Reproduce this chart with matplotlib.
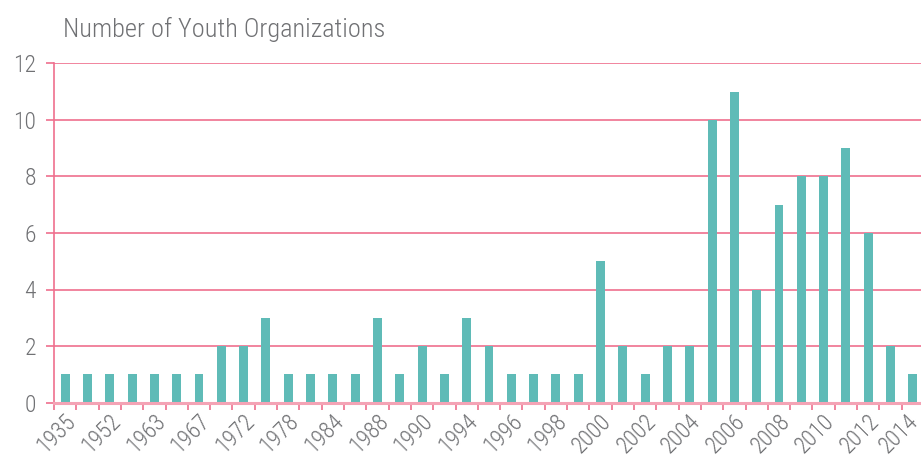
import numpy as np
import matplotlib.pyplot as plt
from matplotlib import font_manager
import matplotlib.transforms as mtransforms

# data
years = ['1935', '1946', '1952', '1958', '1963', '1965', '1967', '1970', '1972', '1975',
         '1978', '1981', '1984', '1986', '1988', '1989', '1990', '1993', '1994', '1995',
         '1996', '1997', '1998', '1999', '2000', '2001', '2002', '2003', '2004', '2005',
         '2006', '2007', '2008', '2009', '2010', '2011', '2012', '2013', '2014']
counts = [1, 1, 1, 1, 1, 1, 1, 2, 2, 3,
          1, 1, 1, 1, 3, 1, 2, 1, 3, 2,
          1, 1, 1, 1, 5, 2, 1, 2, 2, 10,
          11, 4, 7, 8, 8, 9, 6, 2, 1]
y_ticks = [0, 2, 4, 6, 8, 10, 12]
title = 'Number of Youth Organizations'

# narrow light font if there is one
names = {f.name for f in font_manager.fontManager.ttflist}
fam = [n for n in ['Roboto Condensed', 'Oswald', 'Roboto'] if n in names][:1]
plt.rcParams['font.family'] = fam + ['DejaVu Sans']
plt.rcParams['font.weight'] = 'light'

text_col = '#707174'
grid_col = '#ef6f8e'
axis_col = '#f4a3b5'
bar_col = '#5fbbb7'

W, H = 921, 459
fig = plt.figure(figsize=(W / 100, H / 100), dpi=100)
left, right, top, bottom = 54, 924, 63.5, 402.5
ax = fig.add_axes([left / W, 1 - bottom / H, (right - left) / W, (bottom - top) / H])

x = np.arange(len(years))
ax.bar(x, counts, width=0.4, color=bar_col, zorder=3)

ax.set_xlim(-0.5, len(years) - 0.5)
ax.set_ylim(0, 12)

# y axis
ax.set_yticks(y_ticks)
ax.set_yticklabels([str(v) for v in y_ticks], fontsize=17, color=text_col)
ax.tick_params(axis='y', length=6, width=1.2, color=grid_col, pad=7)
for v in y_ticks[1:]:
    ax.axhline(v, color=grid_col, lw=1.2, zorder=1)

# x axis: labels on every other category, tick marks between categories
ax.set_xticks(x[::2])
ax.set_xticklabels(years[::2], rotation=45, ha='right', va='top',
                   rotation_mode='anchor', fontsize=16.5, color=text_col)
ax.set_xticks(np.arange(-0.5, len(years), 1), minor=True)
ax.tick_params(axis='x', which='major', length=0, pad=5)
ax.tick_params(axis='x', which='minor', length=5, width=1.2, color=grid_col)
labels = ax.get_xticklabels()
for i, lab in enumerate(labels):
    dx = -1 if i < len(labels) - 1 else -6  # keep the last one inside the edge
    off = mtransforms.ScaledTranslation(dx / 100, 0, fig.dpi_scale_trans)
    lab.set_transform(lab.get_transform() + off)

for s in ['top', 'right']:
    ax.spines[s].set_visible(False)
ax.spines['left'].set_color(grid_col)
ax.spines['left'].set_linewidth(1.2)
ax.spines['bottom'].set_color(axis_col)
ax.spines['bottom'].set_linewidth(2.2)
ax.spines['bottom'].set_zorder(4)

fig.text(63 / W, 1 - 37 / H, title, fontsize=19, color=text_col, ha='left', va='baseline')

fig.savefig('out.png', dpi=100)
